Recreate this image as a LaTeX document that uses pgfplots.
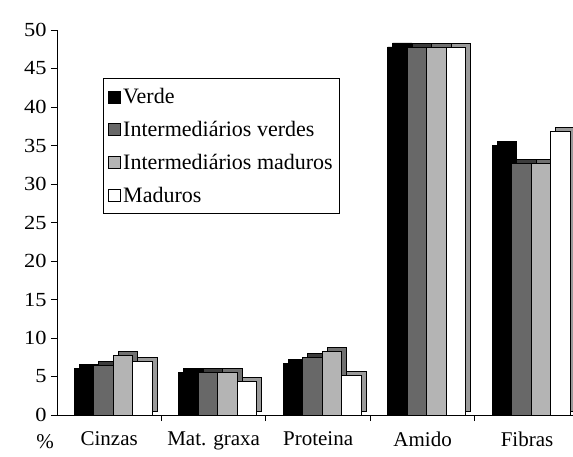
\documentclass[border=0pt]{standalone}
\usepackage{fontspec}
\setmainfont{Liberation Serif}
\newfontfamily\widefont{Liberation Serif}[FakeStretch=1.12]
\usepackage{pgfplots}
\pgfplotsset{compat=1.18}
\definecolor{dgray}{HTML}{686868}
\definecolor{lgray}{HTML}{B4B4B4}
\definecolor{sh1}{HTML}{000000}
\definecolor{sh2}{HTML}{3C3C3C}
\definecolor{sh3}{HTML}{707070}
\definecolor{sh4}{HTML}{9A9A9A}
\begin{document}
\begin{tikzpicture}
\path[use as bounding box] (-57pt,-41pt) rectangle (516pt,415pt);
\begin{axis}[
  at={(0,0)}, anchor=south west,
  scale only axis, width=516pt, height=385pt,
  xmin=-0.5, xmax=4.44, ymin=0, ymax=50,
  axis x line*=bottom, axis y line*=left,
  axis line style={line width=0.9pt},
  ytick={0,5,...,50},
  xtick={0,1,2,3,4},
  xticklabels={Cinzas, Mat. graxa, Proteina, Amido, Fibras},
  major x tick style={draw=none},
  minor xtick={0.5,1.5,2.5,3.5},
  minor tick length=6pt,
  major tick length=6pt,
  tick align=outside,
  tick style={line width=0.9pt, black},
  xticklabel style={font=\fontsize{21}{24}\selectfont, yshift=-7pt},
  yticklabel style={font=\widefont\fontsize{20}{24}\selectfont, xshift=-1pt},
  /pgf/number format/assume math mode=true,
  ybar, bar width=19.5pt,
  clip=false,
  legend style={at={(0.089,0.875)}, anchor=north west, draw=black, line width=1pt,
    font=\fontsize{22}{24}\selectfont, row sep=12pt, inner xsep=5pt, inner ysep=8pt},
  legend cell align=left,
  legend image code/.code={\draw[#1, line width=0.8pt] (0pt,-6pt) rectangle (12pt,6pt);},
  every axis plot/.append style={line width=0.8pt, draw=black},
]
% series: Verde
\addplot[fill=sh1, bar shift=-20.25pt, yshift=4pt, forget plot] coordinates {(0,6.0) (1,5.5) (2,6.7) (3,47.8) (4,35.0)};
\addplot[fill=black, bar shift=-25.25pt] coordinates {(0,6.0) (1,5.5) (2,6.7) (3,47.8) (4,35.0)};
% Intermediarios verdes
\addplot[fill=sh2, bar shift=-0.75pt, yshift=4pt, forget plot] coordinates {(0,6.4) (1,5.5) (2,7.5) (3,47.7) (4,32.7)};
\addplot[fill=dgray, bar shift=-5.75pt] coordinates {(0,6.4) (1,5.5) (2,7.5) (3,47.7) (4,32.7)};
% Intermediarios maduros
\addplot[fill=sh3, bar shift=18.75pt, yshift=4pt, forget plot] coordinates {(0,7.7) (1,5.5) (2,8.2) (3,47.7) (4,32.7)};
\addplot[fill=lgray, bar shift=13.75pt] coordinates {(0,7.7) (1,5.5) (2,8.2) (3,47.7) (4,32.7)};
% Maduros
\addplot[fill=sh4, bar shift=38.25pt, yshift=4pt, forget plot] coordinates {(0,7.0) (1,4.3) (2,5.1) (3,47.7) (4,36.8)};
\addplot[fill=white, bar shift=33.25pt] coordinates {(0,7.0) (1,4.3) (2,5.1) (3,47.7) (4,36.8)};
\legend{Verde, Intermediários verdes, Intermediários maduros, Maduros}
\node[font=\fontsize{21}{24}\selectfont] at (rel axis cs:0,0) [xshift=-12pt, yshift=-27pt] {\%};
\end{axis}
\end{tikzpicture}
\end{document}
